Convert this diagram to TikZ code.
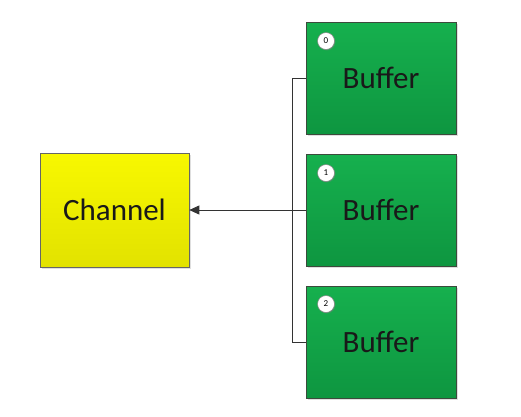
\documentclass[tikz,border=0pt]{standalone}
\usepackage{fontspec}
\setmainfont{Carlito}
\usetikzlibrary{arrows.meta,shadows}
\definecolor{gtop}{HTML}{16B04E}
\definecolor{gbot}{HTML}{0E9640}
\definecolor{ytop}{HTML}{F8F800}
\definecolor{ybot}{HTML}{E2E200}
\definecolor{edge}{HTML}{3C4A3C}
\tikzset{
  px/.style={x=1pt,y=-1pt},
  bufbox/.style={draw=edge, line width=0.8pt, top color=gtop, bottom color=gbot,
    minimum width=150pt, minimum height=112pt, inner sep=0pt,
    font=\fontsize{31}{31}\selectfont, text=black!90,
    drop shadow={shadow xshift=1.5pt, shadow yshift=-1.5pt, opacity=0.25}},
  chbox/.style={draw=black!60, line width=0.6pt, top color=ytop, bottom color=ybot,
    minimum width=149pt, minimum height=114pt, inner sep=0pt,
    font=\fontsize{31}{31}\selectfont, text=black!90,
    drop shadow={shadow xshift=1.5pt, shadow yshift=-1.5pt, opacity=0.25}},
  badge/.style={circle, draw=black!50, line width=0.5pt, fill=white, minimum size=17pt,
    inner sep=0pt, font=\fontsize{9}{9}\selectfont,
    drop shadow={shadow xshift=1pt, shadow yshift=-1pt, opacity=0.3}},
  conn/.style={draw=black!80, line width=0.8pt},
}
\begin{document}
\begin{tikzpicture}[px]
\useasboundingbox (0,0) rectangle (521,416);
\node[chbox] (ch) at (114.5,210) {Channel};
\node[bufbox] (b0) at (381,78) {\raisebox{-3pt}{Buffer}};
\node[bufbox] (b1) at (381,210) {\raisebox{-3pt}{Buffer}};
\node[bufbox] (b2) at (381,342) {\raisebox{-3pt}{Buffer}};
\node[badge] (k0) at (326,41) {0};
\node[badge] (k1) at (326,173) {1};
\node[badge] (k2) at (326,304) {2};
\coordinate (j0) at (292,78);
\coordinate (j2) at (292,342);
\draw[conn] (b0.west) -- (j0) -- (j2) -- (b2.west);
\draw[conn, -{Triangle[length=10pt,width=9pt]}] (b1.west) -- (ch.east);
\end{tikzpicture}
\end{document}
